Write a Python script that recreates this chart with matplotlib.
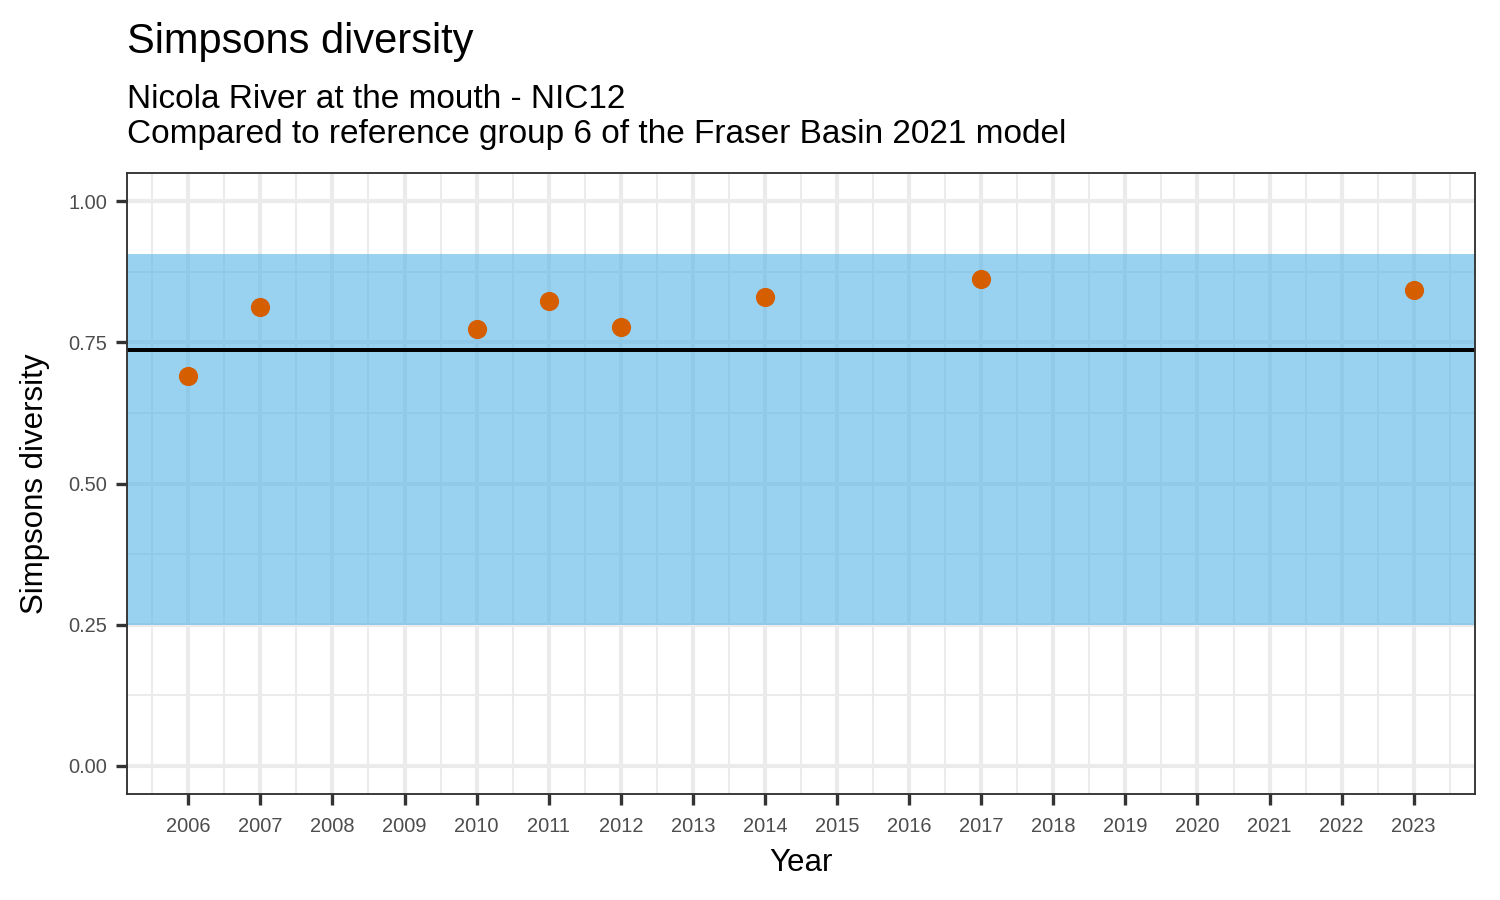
import matplotlib
matplotlib.use("Agg")
import matplotlib.pyplot as plt
from matplotlib.ticker import FixedLocator

plt.rcParams['font.family'] = ['Liberation Sans', 'DejaVu Sans']

years = [2006, 2007, 2010, 2011, 2012, 2014, 2017, 2023]
simpson = [0.691, 0.812, 0.773, 0.824, 0.778, 0.830, 0.862, 0.842]
ref_mean = 0.736
band_low = 0.25
band_high = 0.906
year_ticks = list(range(2006, 2024))
y_ticks = [0.00, 0.25, 0.50, 0.75, 1.00]
y_labels = ["0.00", "0.25", "0.50", "0.75", "1.00"]

title = "Simpsons diversity"
subtitle1 = "Nicola River at the mouth - NIC12"
subtitle2 = "Compared to reference group 6 of the Fraser Basin 2021 model"

fig = plt.figure(figsize=(10, 6), dpi=150)
ax = fig.add_axes([127/1500, 1-794/900, (1475-127)/1500, (794-173)/900])

xmin, xmax = 2006 - 0.85, 2023 + 0.85
ax.set_xlim(xmin, xmax)
ax.set_ylim(-0.05, 1.05)

# grid
grid_col = '#EBEBEB'
for yv in y_ticks:
    ax.axhline(yv, color=grid_col, lw=2.0, zorder=0)
for yv in [0.125, 0.375, 0.625, 0.875]:
    ax.axhline(yv, color=grid_col, lw=1.0, zorder=0)
for xv in year_ticks:
    ax.axvline(xv, color=grid_col, lw=2.0, zorder=0)
for xv in [y + 0.5 for y in range(2005, 2024)]:
    if xmin < xv < xmax:
        ax.axvline(xv, color=grid_col, lw=1.0, zorder=0)

ax.axhspan(band_low, band_high, color='#56B4E9', alpha=0.6, lw=0, zorder=1)
ax.axhline(ref_mean, color='black', lw=1.9, zorder=2)
ax.scatter(years, simpson, s=85, color='#D55E00', zorder=3, linewidths=0)

ax.xaxis.set_major_locator(FixedLocator(year_ticks))
ax.set_xticklabels([str(y) for y in year_ticks])
ax.set_yticks(y_ticks)
ax.set_yticklabels(y_labels)
ax.tick_params(axis='both', length=5.5, width=1.6, color='#333333',
               labelsize=9.6, labelcolor='#4D4D4D')
ax.tick_params(axis='x', pad=5.5)
ax.tick_params(axis='y', pad=4)
for s in ax.spines.values():
    s.set_color('#333333')
    s.set_linewidth(0.9)

ax.set_xlabel("Year", fontsize=15, labelpad=6)
ax.set_ylabel("Simpsons diversity", fontsize=15, labelpad=9)

fig.text(127/1500, 1-42/900, title, fontsize=20, va='center', ha='left')
fig.text(127/1500, 1-99/900, subtitle1, fontsize=16, va='center', ha='left')
fig.text(127/1500, 1-135/900, subtitle2, fontsize=16, va='center', ha='left')

fig.savefig("out.png", dpi=150)
